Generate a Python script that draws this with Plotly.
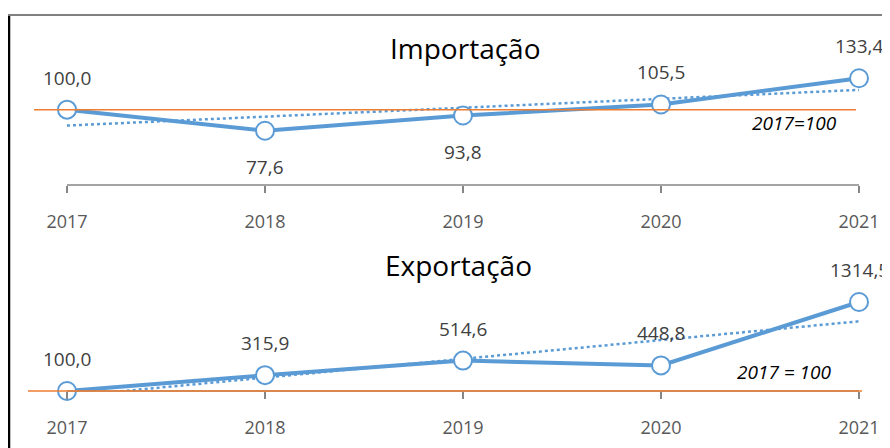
import numpy as np
import plotly.graph_objects as go

years = [2017, 2018, 2019, 2020, 2021]
imp_values = [100.0, 77.6, 93.8, 105.5, 133.4]
exp_values = [100.0, 315.9, 514.6, 448.8, 1314.5]
imp_label_pos = ["above", "below", "below", "above", "above"]
exp_label_pos = ["above", "above", "above", "above", "above"]
title_imp = "Importação"
title_exp = "Exportação"
base_note_imp = "2017=100"
base_note_exp = "2017 = 100"
base_value = 100

BLUE = "#5B9BD5"
ORANGE = "#ED7D31"
AXIS = "#868686"
LABEL = "#404040"
TICK = "#595959"
FONT = "Open Sans"

OFF = 8  # page body margin
W, H = 890 - OFF, 448 - OFF
def fy(px):
    return 1 - (px - OFF) / H
def fx(px):
    return (px - OFF) / W

PX_YEAR = 198
x0_px = 67 - OFF
x_range = [2017 - x0_px / PX_YEAR, 2017 + (W - x0_px) / PX_YEAR]
top_dom = [fy(185), fy(72)]
bot_dom = [fy(391), fy(288.4)]
top_range = [20, 140]
bot_range = [100, 1500]

fig = go.Figure()

def fmt(v):
    return f"{v:.1f}".replace(".", ",")

def add_panel(vals, xa, ya, label_pos):
    xi = np.arange(1, len(years) + 1)
    m, b = np.polyfit(xi, vals, 1)
    trend = m * xi + b
    fig.add_trace(go.Scatter(x=years, y=trend, mode="lines", xaxis=xa, yaxis=ya,
                             line=dict(color=BLUE, width=2.5, dash="dot"),
                             hoverinfo="skip", showlegend=False))
    fig.add_trace(go.Scatter(x=years, y=vals, mode="lines+markers", xaxis=xa, yaxis=ya,
                             line=dict(color=BLUE, width=4),
                             marker=dict(symbol="circle", size=18, color="white",
                                         line=dict(color=BLUE, width=2)),
                             cliponaxis=False, showlegend=False))
    for x, v, p in zip(years, vals, label_pos):
        fig.add_annotation(x=x, y=v, xref=xa, yref=ya, text=fmt(v), showarrow=False,
                           xanchor="center", yanchor="middle",
                           yshift=32 if p == "above" else -36,
                           font=dict(family=FONT, size=19, color=LABEL))

add_panel(imp_values, "x", "y", imp_label_pos)
add_panel(exp_values, "x2", "y2", exp_label_pos)

fig.add_trace(go.Scatter(x=[2017 - 33 / PX_YEAR, 2017 + 789 / PX_YEAR], y=[base_value, base_value],
                         mode="lines", xaxis="x", yaxis="y",
                         line=dict(color=ORANGE, width=1.5), showlegend=False, hoverinfo="skip"))

fig.add_shape(type="line", xref="x", yref="paper", x0=years[0], x1=years[-1],
              y0=top_dom[0], y1=top_dom[0], line=dict(color=AXIS, width=1.5))
fig.add_shape(type="line", xref="x2", yref="paper", x0=years[0], x1=years[-1],
              y0=bot_dom[0], y1=bot_dom[0], line=dict(color=AXIS, width=1.5))
fig.add_shape(type="line", xref="x2", yref="paper", x0=2017 - 39 / PX_YEAR, x1=2017 + 795 / PX_YEAR,
              y0=bot_dom[0], y1=bot_dom[0], line=dict(color=ORANGE, width=1.5))

fig.add_shape(type="line", xref="paper", yref="paper", x0=fx(9), x1=fx(9), y0=-0.05, y1=fy(14),
              line=dict(color="black", width=2.5))
fig.add_shape(type="line", xref="paper", yref="paper", x0=fx(8), x1=1.05, y0=fy(15), y1=fy(15),
              line=dict(color="#808080", width=2))

fig.add_annotation(xref="paper", yref="paper", x=fx(465), y=fy(48), text=title_imp,
                   xanchor="center", yanchor="middle",
                   showarrow=False, font=dict(family=FONT, size=28, color="black"))
fig.add_annotation(xref="paper", yref="paper", x=fx(458), y=fy(265), text=title_exp,
                   xanchor="center", yanchor="middle",
                   showarrow=False, font=dict(family=FONT, size=28, color="black"))
fig.add_annotation(xref="paper", yref="paper", x=fx(794), y=fy(123), text=f"<i>{base_note_imp}</i>",
                   xanchor="center", yanchor="middle",
                   showarrow=False, font=dict(family=FONT, size=19, color="black"))
fig.add_annotation(xref="paper", yref="paper", x=fx(784), y=fy(372), text=f"<i>{base_note_exp}</i>",
                   xanchor="center", yanchor="middle",
                   showarrow=False, font=dict(family=FONT, size=19, color="black"))

axis_common = dict(range=x_range, tickvals=years, ticktext=[str(y) for y in years],
                   ticks="outside", ticklen=7, tickcolor=AXIS, tickwidth=1.5,
                   showgrid=False, zeroline=False, showline=False,
                   tickfont=dict(family=FONT, size=18, color=TICK), ticklabelstandoff=13)
yaxis_common = dict(showgrid=False, zeroline=False, showline=False, showticklabels=False, ticks="")

fig.update_layout(
    width=W, height=H, margin=dict(l=0, r=0, t=0, b=0),
    paper_bgcolor="white", plot_bgcolor="white", showlegend=False,
    xaxis=dict(domain=[0, 1], anchor="y", **axis_common),
    yaxis=dict(domain=top_dom, range=top_range, anchor="x", **yaxis_common),
    xaxis2=dict(domain=[0, 1], anchor="y2", **axis_common),
    yaxis2=dict(domain=bot_dom, range=bot_range, anchor="x2", **yaxis_common),
)

fig.write_html("out.html")
